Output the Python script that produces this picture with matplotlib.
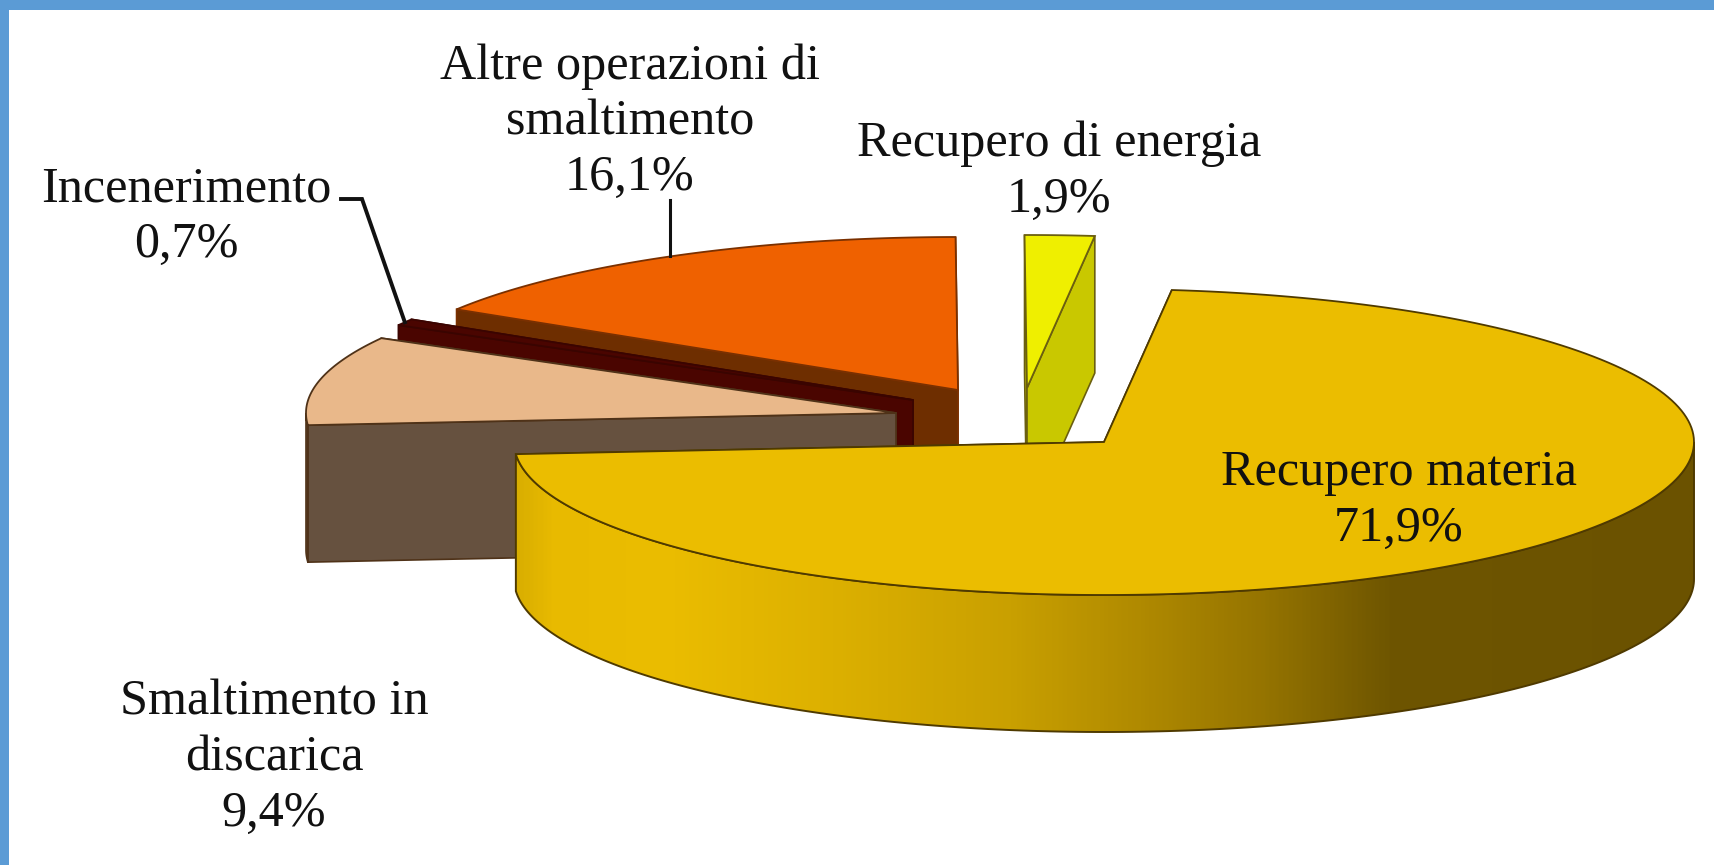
import numpy as np
import matplotlib
matplotlib.use("Agg")
import matplotlib.pyplot as plt
from matplotlib.colors import LinearSegmentedColormap
from matplotlib.patches import Polygon, Rectangle

names = ["Recupero materia", "Smaltimento in\ndiscarica", "Incenerimento",
         "Altre operazioni di\nsmaltimento", "Recupero di energia"]
shares = [71.9, 9.4, 0.7, 16.1, 1.9]
top_colors = ["#ebbd00", "#e9b88a", "#4a0500", "#ef6100", "#efef00"]
side_colors = ["#ebbd00", "#66513f", "#4a0500", "#6e2e00", "#c9c800"]
edge_colors = ["#4f3a00", "#4f3218", "#3a0400", "#7a3000", "#6b5f10"]

# layout, pixels of the 1714x865 picture
apex_x = [1104, 896, 913, 958, 1027]
apex_y = [442, 413, 400, 390, 388]
label_x = [1399, 274, 186, 630, 1059]
label_y = [501, 758, 217, 122, 172]
rx, ry, depth = 590, 153, 137
start_angle = 83.4

plt.rcParams["font.family"] = ["Liberation Serif", "DejaVu Serif"]

fig = plt.figure(figsize=(17.14, 8.65), dpi=100)
ax = fig.add_axes([0, 0, 1, 1])

rim_cmap = LinearSegmentedColormap.from_list("rim", [
    (0.0, "#d9ae00"), (0.03, "#e8ba00"), (0.124, "#ebbd00"), (0.27, "#dcb000"),
    (0.42, "#c9a000"), (0.53, "#b08a00"), (0.636, "#957400"), (0.745, "#6e5500"),
    (1.0, "#6b5200")])


def rim_point(i, angle):
    a = np.radians(angle)
    return apex_x[i] + rx * np.cos(a), apex_y[i] - ry * np.sin(a)


def arc(i, a1, a2):
    angles = np.linspace(a1, a2, 200)
    x, y = rim_point(i, angles)
    return np.column_stack([x, y])


angle = start_angle
order = [3, 2, 1, 4, 0]  # back to front
spans = {}
for i, share in enumerate(shares):
    spans[i] = (angle, angle - share * 3.6)
    angle -= share * 3.6

for z, i in enumerate(order):
    a1, a2 = spans[i]
    tip = np.array([apex_x[i], apex_y[i]])
    drop = np.array([0, depth])
    # the two cut faces, the back one first
    for a in sorted([a1, a2], key=lambda v: np.sin(np.radians(v)), reverse=True):
        p = np.array(rim_point(i, a))
        ax.add_patch(Polygon([tip, p, p + drop, tip + drop], fc=side_colors[i],
                             ec=edge_colors[i], lw=1.2, zorder=z + 1))
    # outer wall, only the part that faces the viewer (angles -180 to 0 here)
    hi, lo = min(a1, 0), max(a2, -180)
    if hi > lo:
        edge = arc(i, hi, lo)
        wall = np.vstack([edge, (edge + drop)[::-1]])
        if i == 0:
            im = ax.imshow(np.linspace(0, 1, 600).reshape(1, -1), cmap=rim_cmap, aspect="auto",
                           extent=[apex_x[i] - rx, apex_x[i] + rx, 800, 400], zorder=z + 1.1)
            clip = Polygon(wall, fc="none", ec=edge_colors[i], lw=1.4, zorder=z + 1.2)
            ax.add_patch(clip)
            im.set_clip_path(clip)
        else:
            ax.add_patch(Polygon(wall, fc=side_colors[i], ec=edge_colors[i], lw=1.2, zorder=z + 1.2))
    top = np.vstack([tip, arc(i, a1, a2)])
    ax.add_patch(Polygon(top, fc=top_colors[i], ec=edge_colors[i], lw=1.3, zorder=z + 1.5))

# leader lines go to the middle of the slice rim
x_i, y_i = rim_point(2, sum(spans[2]) / 2)
ax.plot([341, 362, x_i], [199, 199, y_i], color="#111111", lw=2.8, zorder=4, solid_joinstyle="miter")
x_a, y_a = rim_point(3, sum(spans[3]) / 2)
ax.plot([x_a, x_a], [200, y_a], color="#111111", lw=2.2, zorder=2)

for i, name in enumerate(names):
    pct = "{:.1f}%".format(shares[i]).replace(".", ",")
    ax.text(label_x[i], label_y[i], name + "\n" + pct, ha="center", va="center", fontsize=36.2,
            color="#111111", linespacing=1.26, zorder=20)

# blue frame
ax.add_patch(Rectangle((0, 0), 1714, 10, fc="#5b9bd5", ec="none", zorder=30))
ax.add_patch(Rectangle((0, 0), 9, 865, fc="#5b9bd5", ec="none", zorder=30))

ax.set_xlim(0, 1714)
ax.set_ylim(865, 0)
ax.axis("off")

fig.savefig("out.png", dpi=100, facecolor="white")
